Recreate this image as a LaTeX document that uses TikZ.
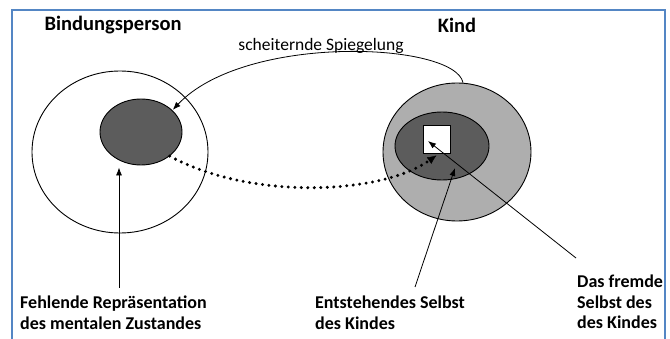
\documentclass[tikz,border=0pt]{standalone}
\usepackage{fontspec}
\setmainfont{Carlito}
\usetikzlibrary{shapes.geometric,arrows.meta}
\definecolor{rahmen}{RGB}{84,134,196}
\definecolor{dunkel}{RGB}{92,92,92}
\definecolor{hell}{RGB}{174,174,174}

\begin{document}
\begin{tikzpicture}[x=1pt,y=-1pt,
  kreis/.style={ellipse,draw,line width=0.9pt,inner sep=0pt},
  pfeil/.style={-{Latex[length=8pt,width=6pt]},line width=0.8pt},
  punkte/.style={-{Latex[length=9pt,width=8pt,line width=0.4pt]},line width=3.3pt,line cap=round,dash pattern=on 0pt off 6.5pt},
  titel/.style={font=\bfseries\fontsize{20.5}{22}\selectfont},
  beschr/.style={font=\bfseries\fontsize{18}{20.5}\selectfont,align=left,anchor=north west,inner sep=0pt}]
\useasboundingbox (0,0) rectangle (670,339);
\draw[rahmen,line width=1.5pt] (12,340)--(12,10)--(665,10)--(665,340);

\node[titel] (tBind) at (113,25) {Bindungsperson};
\node[titel] (tKind) at (457,25) {Kind};
\node[font=\fontsize{17.5}{20}\selectfont] (tSpieg) at (321,46) {scheiternde Spiegelung};

\node[kreis,minimum width=176pt,minimum height=162pt] (bezL) at (120,152) {};
\node[kreis,fill=dunkel,minimum width=82pt,minimum height=66pt] (selbstL) at (141,132) {};
\node[kreis,fill=hell,minimum width=148pt,minimum height=138pt] (kindA) at (457,152) {};
\node[kreis,fill=dunkel,minimum width=94pt,minimum height=68pt] (kindI) at (442,146) {};
\node[draw,fill=white,line width=0.9pt,minimum width=27pt,minimum height=28pt,inner sep=0pt] (fremd) at (436.5,139) {};

\node[beschr] (tFehl) at (20,296) {Fehlende Repräsentation\\des mentalen Zustandes};
\node[beschr] (tEnt) at (315,296) {Entstehendes Selbst\\des Kindes};
\node[beschr] (tFremd) at (577,275) {Das fremde\\Selbst des\\des Kindes};

\coordinate (pFehl) at (119,288);
\coordinate (pEnt) at (415,287);
\coordinate (zEnt) at (455,168);
\coordinate (pFremd) at (576,258);
\coordinate (zFremd) at (428,141);

\draw[pfeil] (kindA.85) .. controls (455,42) and (245,33) .. ([shift={(3pt,-2pt)}]selbstL.40);
\draw[punkte] (selbstL.-40) .. controls (250,200) and (380,195) .. ([yshift=-2pt]fremd.south);
\draw[pfeil] (pFehl) -- ([yshift=-2pt]pFehl |- selbstL.south);
\draw[pfeil] (pEnt) -- (zEnt);
\draw[pfeil] (pFremd) -- (zFremd);
\end{tikzpicture}
\end{document}
